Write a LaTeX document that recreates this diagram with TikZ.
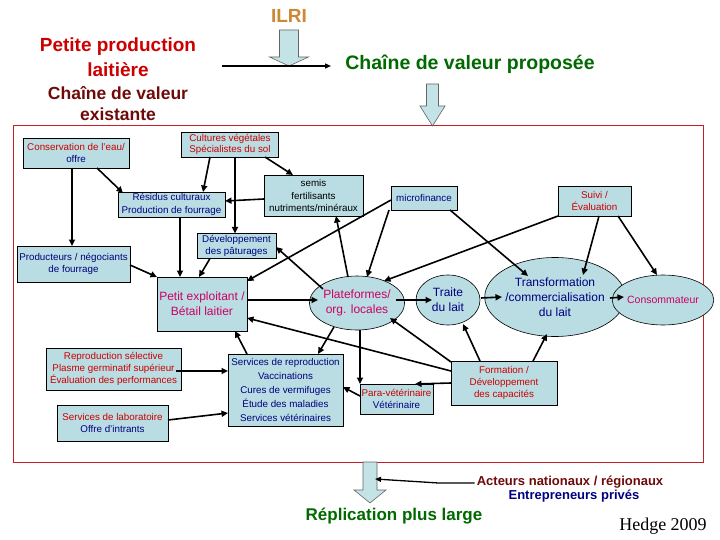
\documentclass[tikz,border=0pt]{standalone}
\usepackage{fontspec}
\setmainfont{Liberation Sans}
\newfontfamily\serifhedge{Liberation Serif}
\usetikzlibrary{arrows.meta,shapes.geometric,calc}
\definecolor{boxfill}{RGB}{185,221,226}
\definecolor{arrowfill}{RGB}{196,227,231}
\definecolor{tred}{RGB}{204,0,0}
\definecolor{tnavy}{RGB}{0,0,128}
\definecolor{tmag}{RGB}{204,0,102}
\definecolor{tmaroon}{RGB}{112,10,10}
\definecolor{tgreen}{RGB}{0,105,0}
\definecolor{tgold}{RGB}{204,136,51}
\definecolor{framered}{RGB}{200,30,40}
\begin{document}
\begin{tikzpicture}[x=1pt,y=-1pt,
  box/.style={draw=black,line width=0.6pt,fill=boxfill,inner sep=0pt,align=center,
    font=\fontsize{9.8}{12.3}\selectfont,text=tnavy},
  ell/.style={ellipse,draw=black,line width=0.6pt,fill=boxfill,inner sep=0pt,align=center,
    font=\fontsize{12}{15}\selectfont},
  conn/.style={line width=1.6pt,-{Triangle[length=6.5pt,width=6pt]}},
  blockarrow/.style={fill=arrowfill,draw=black!60,line width=0.6pt},
  title/.style={align=center,inner sep=0pt}]
\useasboundingbox (0,0) rectangle (720,540);
\fill[white] (0,0) rectangle (720,540);

% frame
\draw[framered,line width=1pt] (13,126) rectangle (703,462);

% block arrows
\path[blockarrow] (279.5,30) -- (298.5,30) -- (298.5,57) -- (308.5,57) -- (289,66) -- (269.5,57) -- (279.5,57) -- cycle;
\path[blockarrow] (426.5,84) -- (438.5,84) -- (438.5,106) -- (445,106) -- (432.5,126) -- (420,106) -- (426.5,106) -- cycle;
\path[blockarrow] (363,462) -- (377,462) -- (377,490) -- (386,490) -- (370,503) -- (354,490) -- (363,490) -- cycle;

% titles
\node[title,font=\bfseries\fontsize{19}{25}\selectfont,text=tgold] (ilri) at (289,16) {ILRI};
\node[title,font=\bfseries\fontsize{19}{25}\selectfont,text=tred] (petite) at (118,57.5) {Petite production\\laitière};
\node[title,font=\bfseries\fontsize{17.5}{21}\selectfont,text=tmaroon] (existante) at (118,103.5) {Chaîne de valeur\\existante};
\node[title,font=\bfseries\fontsize{19.5}{24}\selectfont,text=tgreen] (proposee) at (470,64) {Chaîne de valeur proposée};
\node[title,font=\bfseries\fontsize{13}{16}\selectfont,text=tmaroon] (acteurs) at (570,482) {Acteurs nationaux / régionaux};
\node[title,font=\bfseries\fontsize{13}{16}\selectfont,text=tnavy] (entre) at (574,496) {Entrepreneurs privés};
\node[title,font=\bfseries\fontsize{17}{20}\selectfont,text=tgreen] (replic) at (394,516) {Réplication plus large};
\node[title,font=\serifhedge\fontsize{18}{20}\selectfont,text=black] (hedge) at (663,526) {Hedge 2009};

\coordinate (hstart) at (222,66);
\coordinate (hend) at (331,66);
\draw[line width=1.4pt,-{Triangle[length=6pt,width=5pt]}] (hstart) -- (hend);

\coordinate (actip) at (375,479);
\draw[line width=1.3pt,-{Triangle[length=6pt,width=5pt]}] ($(acteurs.west)+(-2,1)$) -- ++(-36,0) -- (actip);

% boxes
\node[box,minimum width=106pt,minimum height=30pt] (cons) at (76,153) {\textcolor{tred}{Conservation de l'eau/}\\offre};
\node[box,minimum width=97pt,minimum height=25pt,text=tred,font=\fontsize{9.8}{11}\selectfont] (cult) at (230,144.5) {Cultures végétales\\Spécialistes du sol};
\node[box,minimum width=107pt,minimum height=25pt] (resid) at (171.5,204.5) {Résidus culturaux\\Production de fourrage};
\node[box,minimum width=99pt,minimum height=41pt,text=black] (semis) at (313.5,195.5) {semis\\fertilisants\\nutriments/minéraux};
\node[box,minimum width=79pt,minimum height=25pt] (dev) at (236.5,246) {Développement\\des pâturages};
\node[box,minimum width=113pt,minimum height=36pt] (prod) at (73.5,264) {Producteurs / négociants\\de fourrage};
\node[box,minimum width=90pt,minimum height=54pt,text=tmag,font=\fontsize{12}{15}\selectfont] (petit) at (202,304) {Petit exploitant /\\Bétail laitier};
\node[box,minimum width=135pt,minimum height=42pt,text=tred] (repro) at (113.5,369) {Reproduction sélective\\Plasme germinatif supérieur\\Évaluation des performances};
\node[box,minimum width=111pt,minimum height=36pt] (labo) at (112.5,423) {\textcolor{tred}{Services de laboratoire}\\Offre d'intrants};
\node[box,minimum width=115pt,minimum height=72pt,font=\fontsize{9.8}{14.2}\selectfont] (serv) at (285.5,390) {Services de reproduction\\Vaccinations\\Cures de vermifuges\\Étude des maladies\\Services vétérinaires};
\node[box,minimum width=66pt,minimum height=24pt] (micro) at (424,198) {microfinance};
\node[box,minimum width=73pt,minimum height=30pt,text=tred] (suivi) at (594.5,201) {Suivi /\\Évaluation};
\node[box,minimum width=73pt,minimum height=30pt] (para) at (396.5,399) {\textcolor{tred}{Para-vétérinaire}\\Vétérinaire};
\node[box,minimum width=106pt,minimum height=44pt,text=tred] (form) at (504,383) {Formation /\\Développement\\des capacités};

% ellipses
\node[ell,minimum width=78pt,minimum height=54pt,text=tmag] (plat) at (357,303) {Plateformes/\\org. locales};
\node[ell,minimum width=64pt,minimum height=50pt,text=tnavy] (traite) at (448,300) {Traite\\du lait};
\node[ell,minimum width=108pt,minimum height=79pt,text=tnavy] (trans) at (555,297) {Transformation\\/commercialisation\\du lait};
\node[ell,minimum width=78pt,minimum height=50pt,text=tmag,font=\fontsize{10.5}{12}\selectfont] (conso) at (663,300) {Consommateur};

% connectors
\draw[conn] ($(cons)+(-4,15)$) -- ($(prod)+(-1.5,-18)$);
\draw[conn] ($(cons)+(21,15)$) -- ($(resid)+(-48.5,-11.5)$);
\draw[conn] ($(cult)+(-20,12.5)$) -- ($(resid)+(31.5,-12.5)$);
\draw[conn] ($(cult)+(5,12.5)$) -- ($(dev)+(-1.5,-12.5)$);
\draw[conn] ($(cult)+(35,12.5)$) -- ($(semis)+(-20.5,-20.5)$);
\draw[conn] ($(semis)+(-49.5,3.5)$) -- ($(resid)+(53.5,-3.5)$);
\draw[conn] ($(resid)+(8.5,12.5)$) -- ($(petit)+(-22,-27)$);
\draw[conn] ($(dev)+(-26.5,12.5)$) -- ($(petit)+(-3,-27)$);
\draw[conn] ($(prod)+(56.5,1)$) -- ($(petit)+(-45,-27)$);
\draw[conn] ($(micro)+(-33,2)$) -- ($(petit)+(45,-23)$);
\draw[conn] ($(micro)+(-35,12)$) -- ($(plat)+(10,-26)$);
\draw[conn] ($(plat)+(-9,-26)$) -- ($(semis)+(22.5,20.5)$);
\draw[conn] ($(plat)+(-34,-14)$) -- ($(dev)+(39.5,1)$);
\draw[conn] ($(petit)+(45,-4)$) -- ($(plat)+(-39,-3)$);
\draw[conn] ($(form)+(-53,-12)$) -- ($(petit)+(45,14)$);
\draw[conn] ($(serv)+(-38.5,-36)$) -- ($(petit)+(33,27)$);
\draw[conn] ($(plat)+(-23,24)$) -- ($(serv)+(32.5,-36)$);
\draw[conn] ($(repro)+(62,2)$) -- ($(serv)+(-57.5,-19)$);
\draw[conn] ($(labo)+(55.5,-3)$) -- ($(serv)+(-57.5,23)$);
\draw[conn] ($(para)+(-36.5,-3)$) -- ($(serv)+(57.5,-3)$);
\draw[conn] ($(plat)+(3,27)$) -- ($(para)+(-36.5,-15)$);
\draw[conn] ($(form)+(-53,0)$) -- ($(para)+(18.5,-15)$);
\draw[conn] ($(form)+(-53,-21)$) -- ($(plat)+(33,15)$);
\draw[conn] ($(form)+(-24,-22)$) -- ($(traite)+(15,24)$);
\draw[conn] ($(form)+(29,-22)$) -- ($(trans)+(-8,37)$);
\draw[conn] ($(plat)+(39,-3)$) -- ($(traite)+(-16,0)$);
\draw[conn] ($(traite)+(33,-2)$) -- ($(trans)+(-53,0)$);
\draw[conn] ($(trans)+(55,1)$) -- ($(conso)+(-39,-3)$);
\draw[conn] ($(micro)+(26,12)$) -- ($(trans)+(-27,-21)$);
\draw[conn] ($(suivi)+(4.5,15)$) -- ($(trans)+(28,-22)$);
\draw[conn] ($(suivi)+(23.5,15)$) -- ($(conso)+(-6,-25)$);
\draw[conn] ($(suivi)+(-36.5,15)$) -- ($(plat)+(27,-22)$);
\end{tikzpicture}
\end{document}
